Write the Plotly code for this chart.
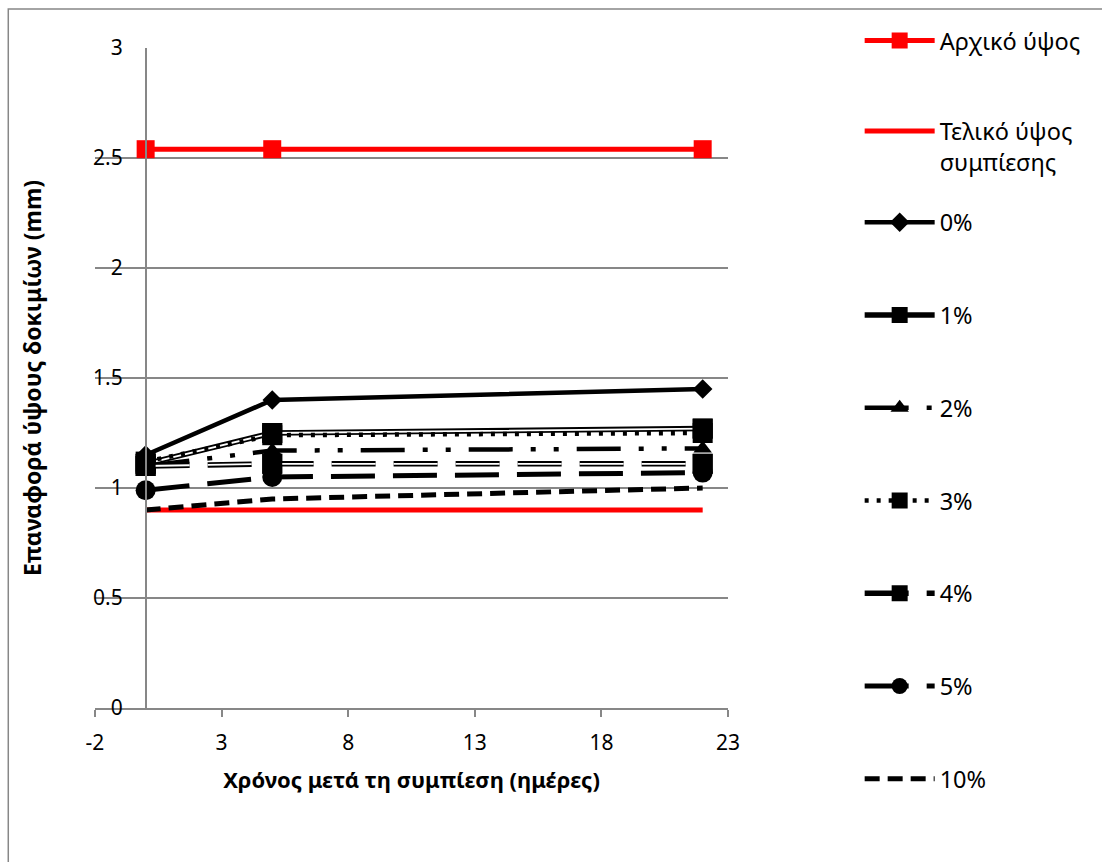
import plotly.graph_objects as go

# Days after compression
days = [0, 5, 22]

# Reference heights (mm)
initial_height = [2.54, 2.54, 2.54]
final_height = [0.90, 0.90, 0.90]

# Height recovery per additive content (mm)
rec_0 = [1.15, 1.40, 1.45]
rec_1 = [1.11, 1.25, 1.27]
rec_2 = [1.10, 1.17, 1.18]
rec_3 = [1.12, 1.24, 1.25]
rec_4 = [1.10, 1.11, 1.11]
rec_5 = [0.99, 1.05, 1.07]
rec_10 = [0.90, 0.95, 1.00]

x_ticks = [-2, 3, 8, 13, 18, 23]
x_tick_labels = ["-2", "3", "8", "13", "18", "23"]
X_RANGE = [-2, 23]
Y_RANGE = [0, 3]

FONT = "Noto Sans"
GRID = "#878787"
RED = "#FF0000"
BLACK = "#000000"

fig = go.Figure()


def add(name, y, legend, color=BLACK, width=4.5, dash="solid", symbol=None,
        size=0, inner=None):
    group = name
    mode = "lines+markers" if symbol else "lines"
    fig.add_trace(go.Scatter(
        x=days, y=y, name=name, mode=mode, legend=legend, legendgroup=group,
        line=dict(color=color, width=width, dash=dash),
        marker=dict(symbol=symbol or "circle", size=size, color=color,
                    line=dict(width=0)),
    ))
    if inner:
        # white core of a double (compound) line
        fig.add_trace(go.Scatter(
            x=days, y=y, name=name, mode="lines", legendgroup=group,
            showlegend=False, hoverinfo="skip",
            line=dict(color="white", width=inner, dash=dash),
        ))
        fig.add_trace(go.Scatter(
            x=days, y=y, name=name, mode="markers", legendgroup=group,
            showlegend=False, hoverinfo="skip",
            marker=dict(symbol=symbol, size=size, color=color,
                        line=dict(width=0)),
        ))


add("Αρχικό ύψος", initial_height, "legend", color=RED, width=5,
    symbol="square", size=18)
add("Τελικό ύψος<br>συμπίεσης", final_height, "legend", color=RED, width=5)
add("0%", rec_0, "legend2", symbol="diamond", size=15)
add("1%", rec_1, "legend2", width=5.5, symbol="square", size=20, inner=1.8)
add("2%", rec_2, "legend2", dash="44px,18px,5px,18px,5px,18px",
    symbol="triangle-up", size=16)
add("3%", rec_3, "legend2", dash="4px,8px", symbol="square", size=20)
add("4%", rec_4, "legend2", width=5.5, dash="44px,18px", symbol="square",
    size=20, inner=1.8)
add("5%", rec_5, "legend2", width=5, dash="44px,18px", symbol="circle",
    size=20)
add("10%", rec_10, "legend2", width=5, dash="15px,8px")

# y-axis crosses the x-axis at x = 0
y_axis_pos = (0 - X_RANGE[0]) / (X_RANGE[1] - X_RANGE[0])

fig.update_layout(
    width=1102, height=862,
    margin=dict(l=95, r=374, t=48, b=154),
    paper_bgcolor="white", plot_bgcolor="white",
    font=dict(family=FONT, size=21, color="black"),
    xaxis=dict(
        range=X_RANGE, tickvals=x_ticks, ticktext=x_tick_labels,
        showgrid=False, zeroline=False,
        showline=True, linecolor=GRID, linewidth=1.5,
        ticks="outside", ticklen=7, tickcolor=GRID, tickwidth=1.5,
        ticklabelstandoff=8, tickfont=dict(size=21),
        title=dict(text="<b>Χρόνος μετά τη συμπίεση (ημέρες)</b>",
                   font=dict(size=22), standoff=18),
    ),
    yaxis=dict(
        range=Y_RANGE, dtick=0.5, anchor="free", position=y_axis_pos,
        showgrid=True, gridcolor=GRID, gridwidth=1.5, zeroline=False,
        showline=True, linecolor=GRID, linewidth=1.5, ticks="",
        ticklabelstandoff=18, tickfont=dict(size=21),
        title=dict(text="<b>Επαναφορά ύψους δοκιμίων (mm)</b>",
                   font=dict(size=23), standoff=44),
    ),
    legend=dict(
        x=1.208, y=1.0445, xanchor="left", yanchor="top",
        font=dict(size=23.5), tracegroupgap=57, valign="top",
        itemwidth=70, bgcolor="rgba(0,0,0,0)",
    ),
    legend2=dict(
        x=1.208, y=0.769, xanchor="left", yanchor="top",
        font=dict(size=23.5), tracegroupgap=59.2, valign="top",
        itemwidth=70, bgcolor="rgba(0,0,0,0)",
    ),
    shapes=[dict(
        type="rect", xref="paper", yref="paper",
        x0=-0.137, x1=1.62, y0=-0.26, y1=1.059,
        line=dict(color=GRID, width=1.5), fillcolor="rgba(0,0,0,0)",
        layer="below",
    )],
)

fig.write_html("out.html")
